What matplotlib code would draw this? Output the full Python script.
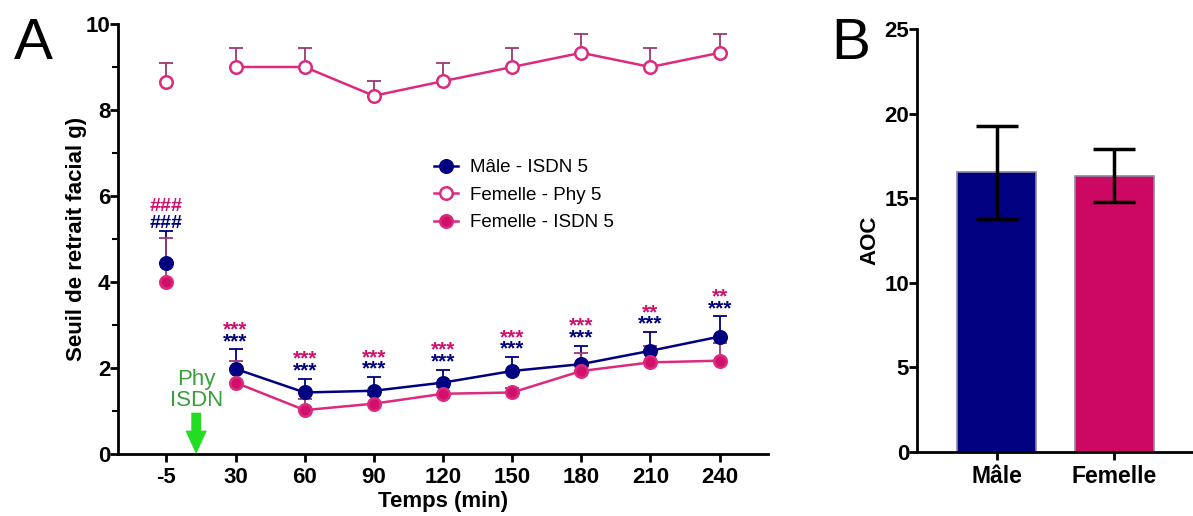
import numpy as np
import matplotlib
matplotlib.use("Agg")
import matplotlib.pyplot as plt

plt.rcParams['font.family'] = ['Liberation Sans', 'DejaVu Sans']

# panel A data
temps = ["-5", "30", "60", "90", "120", "150", "180", "210", "240"]
male_isdn = [4.43, 1.98, 1.43, 1.47, 1.66, 1.93, 2.09, 2.40, 2.73]
male_isdn_err = [0.76, 0.45, 0.32, 0.32, 0.30, 0.33, 0.43, 0.44, 0.47]
fem_phy = [8.66, 9.0, 9.0, 8.33, 8.67, 9.0, 9.33, 9.0, 9.33]
fem_phy_err = [0.44, 0.45, 0.45, 0.35, 0.43, 0.45, 0.43, 0.45, 0.43]
fem_isdn = [3.99, 1.66, 1.02, 1.17, 1.40, 1.43, 1.93, 2.13, 2.17]
fem_isdn_err = [1.03, 0.51, 0.25, 0.20, 0.15, 0.10, 0.43, 0.39, 0.40]
stars_male = ["###", "***", "***", "***", "***", "***", "***", "***", "***"]
stars_fem = ["###", "***", "***", "***", "***", "***", "***", "**", "**"]

# panel B data
groupes = ["Mâle", "Femelle"]
aoc = [16.53, 16.33]
aoc_err = [2.74, 1.58]

navy = "#000080"
pink = "#d0106a"
pink_line = "#dd2a7e"
err_pink = "#9a3a72"

fig = plt.figure(figsize=(11.93, 5.16), dpi=100)
ax = fig.add_axes([0.0989, 0.1202, 0.5449, 0.8333])
bx = fig.add_axes([0.7684, 0.1246, 0.2316, 0.8186])

x = np.arange(len(temps))


def serie(vals, errs, color, ecolor, mfc, label):
    vals = np.array(vals)
    errs = np.array(errs)
    # -5 stands alone, the rest is joined
    for sl in (slice(0, 1), slice(1, None)):
        ax.errorbar(x[sl], vals[sl], yerr=[np.zeros_like(errs[sl]), errs[sl]],
                    fmt='none', ecolor=ecolor, elinewidth=1.3, capsize=5, capthick=1.3, zorder=2)
        ax.plot(x[sl], vals[sl], '-o', color=color, mfc=mfc, mec=color, mew=1.8,
                ms=9, lw=1.8, zorder=3, label=label if sl.start == 0 else None)


serie(male_isdn, male_isdn_err, navy, navy, navy, "Mâle - ISDN 5")
serie(fem_phy, fem_phy_err, pink_line, err_pink, "white", "Femelle - Phy 5")
serie(fem_isdn, fem_isdn_err, pink_line, err_pink, pink, "Femelle - ISDN 5")

# significance marks
for i in range(len(temps)):
    top = male_isdn[i] + male_isdn_err[i]
    if i == 0:
        yb, yp, fs = 5.37, 5.75, 14
    else:
        yb, yp, fs = top + 0.18, top + 0.45, 15
    ax.text(x[i], yb, stars_male[i], color=navy, ha='center', va='center',
            fontsize=fs, fontweight='bold')
    ax.text(x[i], yp, stars_fem[i], color=pink, ha='center', va='center',
            fontsize=fs, fontweight='bold')

# injection arrow
ax.annotate("", xy=(0.43, 0.0), xytext=(0.43, 0.96),
            arrowprops=dict(arrowstyle='simple,head_length=1.2,head_width=1.1,tail_width=0.5',
                            color='#22dd22', lw=0, mutation_scale=14, shrinkA=0, shrinkB=0))
ax.text(0.43, 1.49, "Phy\nISDN", color='#3a9e3a', ha='center', va='center',
        fontsize=16, linespacing=1.0)

ax.set_xlim(-0.7, 8.7)
ax.set_ylim(0, 10)
ax.set_xticks(x)
ax.set_xticklabels(temps)
ax.set_yticks([0, 2, 4, 6, 8, 10])
ax.set_yticks([1, 3, 5, 7, 9], minor=True)
ax.set_xlabel("Temps (min)", fontsize=16, fontweight='bold', labelpad=2)
ax.set_ylabel("Seuil de retrait facial g)", fontsize=16, fontweight='bold', labelpad=-1)

leg = ax.legend(loc='upper left', bbox_to_anchor=(0.46, 0.725), frameon=False,
                fontsize=13.5, handlelength=1.3, handletextpad=0.6, labelspacing=0.55)

for a in (ax, bx):
    a.spines['top'].set_visible(False)
    a.spines['right'].set_visible(False)
    a.spines['left'].set_linewidth(2)
    a.spines['bottom'].set_linewidth(2)
    a.tick_params(which='major', width=2, length=6, labelsize=16)
    a.tick_params(which='minor', width=1.5, length=4)
    a.tick_params(axis='y', pad=-0.5)

# panel B
xb = np.arange(len(groupes))
bx.bar(xb, aoc, width=0.67, color=[navy, "#cc0862"], edgecolor="#8a8aa0", lw=1.2, zorder=2)
bx.errorbar(xb, aoc, yerr=aoc_err, fmt='none', ecolor='black', elinewidth=2.5,
            capsize=15, capthick=2.5, zorder=3)
bx.set_xlim(-0.68, 1.67)
bx.set_ylim(0, 25)
bx.set_xticks(xb)
bx.set_xticklabels(groupes)
bx.set_yticks([0, 5, 10, 15, 20, 25])
bx.set_ylabel("AOC", fontsize=16, fontweight='bold', labelpad=3)
bx.tick_params(axis='x', labelsize=16.5)

for a in (ax, bx):
    for t in a.get_xticklabels() + a.get_yticklabels():
        t.set_fontweight('bold')

fig.text(0.012, 0.885, "A", fontsize=42)
fig.text(0.697, 0.885, "B", fontsize=42)

fig.savefig("out.png", dpi=100)
